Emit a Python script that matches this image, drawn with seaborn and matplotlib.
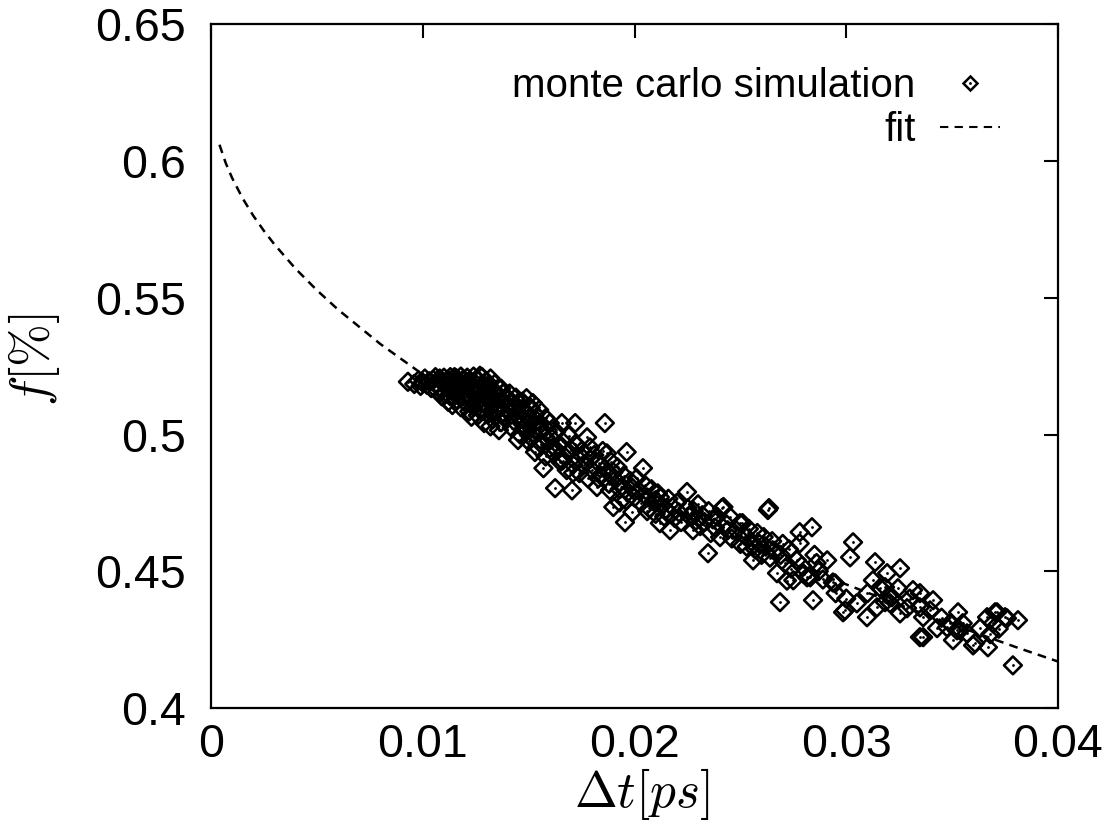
import numpy as np
import pandas as pd
import matplotlib
matplotlib.use("Agg")
import matplotlib.pyplot as plt
from matplotlib.lines import Line2D
import seaborn as sns

# ---------------- data ----------------
mc_points = [
    # dt , f
    (0.0093, 0.5193), (0.0096, 0.5185), (0.0098, 0.5198), (0.0099, 0.5178), (0.0100, 0.5190),
    (0.0101, 0.5205), (0.0102, 0.5182), (0.0103, 0.5195), (0.0104, 0.5170), (0.0105, 0.5200),
    (0.0106, 0.5185), (0.0107, 0.5160), (0.0108, 0.5205), (0.0108, 0.5175), (0.0109, 0.5192),
    (0.0110, 0.5150), (0.0110, 0.5208), (0.0111, 0.5180), (0.0112, 0.5198), (0.0112, 0.5165),
    (0.0113, 0.5140), (0.0113, 0.5210), (0.0114, 0.5188), (0.0114, 0.5108), (0.0115, 0.5172),
    (0.0115, 0.5150), (0.0116, 0.5205), (0.0116, 0.5128), (0.0117, 0.5192), (0.0117, 0.5160),
    (0.0118, 0.5212), (0.0118, 0.5178), (0.0119, 0.5140), (0.0119, 0.5200), (0.0120, 0.5165),
    (0.0120, 0.5185), (0.0120, 0.5118),
    (0.0121, 0.5208), (0.0121, 0.5150), (0.0122, 0.5192), (0.0122, 0.5130), (0.0123, 0.5175),
    (0.0123, 0.5065), (0.0124, 0.5212), (0.0124, 0.5158), (0.0125, 0.5185), (0.0125, 0.5140),
    (0.0126, 0.5200), (0.0126, 0.5120), (0.0127, 0.5168), (0.0127, 0.5090), (0.0128, 0.5210),
    (0.0128, 0.5148), (0.0129, 0.5180), (0.0129, 0.5042), (0.0130, 0.5195), (0.0130, 0.5160),
    (0.0130, 0.5105), (0.0131, 0.5130), (0.0131, 0.5175), (0.0132, 0.5142), (0.0132, 0.5205),
    (0.0133, 0.5125), (0.0133, 0.5160), (0.0134, 0.5090), (0.0134, 0.5185), (0.0135, 0.5150),
    (0.0136, 0.5016), (0.0136, 0.5133), (0.0136, 0.5105), (0.0137, 0.5168), (0.0137, 0.5075),
    (0.0138, 0.5120), (0.0138, 0.5150), (0.0139, 0.5095), (0.0139, 0.5133), (0.0140, 0.5060),
    (0.0140, 0.5110),
    (0.0112, 0.5120), (0.0118, 0.5100), (0.0122, 0.5085), (0.0126, 0.5070), (0.0129, 0.5115),
    (0.0131, 0.5075), (0.0133, 0.5055), (0.0135, 0.5085), (0.0127, 0.5215), (0.0124, 0.5100),
    (0.0132, 0.5030), (0.0137, 0.5045), (0.0115, 0.5210), (0.0109, 0.5140), (0.0106, 0.5210),
    (0.0141, 0.5150), (0.0141, 0.5085), (0.0142, 0.5120), (0.0143, 0.5050), (0.0143, 0.5100),
    (0.0144, 0.5135), (0.0145, 0.4980), (0.0145, 0.5070), (0.0146, 0.5110), (0.0147, 0.5040),
    (0.0148, 0.5088), (0.0149, 0.5133), (0.0149, 0.5015), (0.0150, 0.5060), (0.0151, 0.5098),
    (0.0151, 0.4990), (0.0152, 0.5115), (0.0152, 0.5035), (0.0153, 0.4936), (0.0153, 0.5075),
    (0.0154, 0.5050), (0.0155, 0.5010), (0.0155, 0.5090), (0.0156, 0.4965), (0.0157, 0.5030),
    (0.0157, 0.4877), (0.0158, 0.5060), (0.0158, 0.4990), (0.0159, 0.5015), (0.0160, 0.4950),
    (0.0160, 0.5042),
    (0.0142, 0.5025), (0.0144, 0.5095), (0.0146, 0.5000), (0.0148, 0.5055), (0.0150, 0.4975),
    (0.0152, 0.5005), (0.0154, 0.4955), (0.0156, 0.5020), (0.0158, 0.4920), (0.0147, 0.5120),
    (0.0161, 0.4985), (0.0162, 0.4930), (0.01625, 0.4804), (0.0163, 0.5010), (0.0164, 0.4960),
    (0.0165, 0.4900), (0.01657, 0.5042), (0.0166, 0.4975), (0.0167, 0.4920), (0.0168, 0.4870),
    (0.0169, 0.4995), (0.0170, 0.4945), (0.01705, 0.4796), (0.0171, 0.4890), (0.0172, 0.5042),
    (0.0172, 0.4965), (0.0173, 0.4915), (0.0174, 0.4859), (0.0175, 0.4940), (0.0176, 0.4890),
    (0.01776, 0.4990), (0.0178, 0.4840), (0.0179, 0.4953), (0.0179, 0.4910), (0.0180, 0.4870),
    (0.0163, 0.4945), (0.0166, 0.4905), (0.0169, 0.4935), (0.0171, 0.4860), (0.0177, 0.4925),
    (0.0181, 0.4925), (0.01823, 0.4808), (0.0183, 0.4895), (0.0184, 0.4850), (0.0185, 0.4940),
    (0.0186, 0.5042), (0.0186, 0.4875), (0.0187, 0.4931), (0.0188, 0.4820), (0.01884, 0.4796),
    (0.0189, 0.4900), (0.0190, 0.4862), (0.0190, 0.4735), (0.0191, 0.4835), (0.0192, 0.4880),
    (0.0193, 0.4752), (0.0194, 0.4810), (0.0195, 0.4850), (0.01955, 0.4679), (0.01963, 0.4936),
    (0.0197, 0.4790), (0.0198, 0.4830), (0.0199, 0.4716), (0.0199, 0.4805), (0.0200, 0.4770),
    (0.0183, 0.4840), (0.0188, 0.4860), (0.0193, 0.4800), (0.0196, 0.4760),
    (0.0201, 0.4840), (0.0202, 0.4795), (0.0203, 0.4750), (0.0204, 0.4877), (0.0205, 0.4815),
    (0.0206, 0.4770), (0.0207, 0.4730), (0.0208, 0.4800), (0.0209, 0.4755), (0.0210, 0.4710),
    (0.0211, 0.4785), (0.0212, 0.4676), (0.0212, 0.4771), (0.0213, 0.4740), (0.0214, 0.4700),
    (0.0215, 0.4724), (0.0216, 0.4765), (0.02168, 0.4650), (0.0218, 0.4735), (0.0219, 0.4695),
    (0.0220, 0.4750), (0.0206, 0.4720), (0.0210, 0.4760), (0.0217, 0.4710),
    (0.0221, 0.4715), (0.0222, 0.4680), (0.02248, 0.4790), (0.0225, 0.4730), (0.0226, 0.4700),
    (0.02276, 0.4650), (0.0228, 0.4720), (0.0229, 0.4685), (0.0230, 0.4745), (0.0231, 0.4665),
    (0.0232, 0.4705), (0.0233, 0.4680), (0.02347, 0.4566), (0.0235, 0.4720), (0.0236, 0.4640),
    (0.0237, 0.4690), (0.0238, 0.4660), (0.0239, 0.4700), (0.02404, 0.4625), (0.02413, 0.4731),
    (0.0242, 0.4735),
    (0.0243, 0.4675), (0.0244, 0.4650), (0.0245, 0.4700), (0.0246, 0.4620), (0.0248, 0.4650),
    (0.02498, 0.4676), (0.0250, 0.4600), (0.0251, 0.4676), (0.0252, 0.4630), (0.0253, 0.4590),
    (0.0254, 0.4655), (0.0255, 0.4610), (0.0256, 0.4540), (0.0257, 0.4580), (0.0258, 0.4640),
    (0.0259, 0.4600), (0.0260, 0.4560),
    (0.0261, 0.4625), (0.0262, 0.4590), (0.0263, 0.4724), (0.02635, 0.4731), (0.0264, 0.4550),
    (0.0265, 0.4610), (0.0266, 0.4575), (0.02673, 0.4493), (0.02687, 0.4387), (0.0269, 0.4560),
    (0.0270, 0.4600), (0.0271, 0.4530), (0.0272, 0.4466), (0.0273, 0.4580), (0.0274, 0.4510),
    (0.0275, 0.4467), (0.02767, 0.4540), (0.0278, 0.4643), (0.0278, 0.4602), (0.0279, 0.4520),
    (0.0280, 0.4490),
    (0.02815, 0.4478), (0.0283, 0.4478), (0.02838, 0.4661), (0.02843, 0.4394), (0.0285, 0.4560),
    (0.0286, 0.4530), (0.0287, 0.4500), (0.0289, 0.4470), (0.0291, 0.4540), (0.02937, 0.4459),
    (0.02947, 0.4456), (0.0295, 0.4420), (0.02985, 0.4350), (0.02994, 0.4357), (0.0300, 0.4400),
    (0.03018, 0.4551), (0.03032, 0.4606), (0.0305, 0.4383), (0.03098, 0.4332), (0.0310, 0.4420),
    (0.03126, 0.4467), (0.03136, 0.4533), (0.03145, 0.4368), (0.0316, 0.4440), (0.03183, 0.4442),
    (0.03183, 0.4387), (0.03193, 0.4493), (0.0320, 0.4410),
    (0.03207, 0.4383), (0.03216, 0.4405), (0.03244, 0.4438), (0.03254, 0.4511), (0.03254, 0.4346),
    (0.03287, 0.4365), (0.0330, 0.4400), (0.03315, 0.4431), (0.03348, 0.4368), (0.03348, 0.4420),
    (0.03348, 0.4259), (0.03363, 0.4332), (0.03363, 0.4259), (0.03396, 0.4357), (0.0341, 0.4394),
    (0.03429, 0.4292), (0.0345, 0.4330), (0.03476, 0.4295), (0.0349, 0.4310), (0.03504, 0.4248),
    (0.03523, 0.4284), (0.03528, 0.4350), (0.03537, 0.4284), (0.0355, 0.4310), (0.0357, 0.4273),
    (0.03599, 0.4229), (0.03608, 0.4237),
    (0.03632, 0.4292), (0.03665, 0.4332), (0.03669, 0.4222), (0.0368, 0.4270), (0.03693, 0.4310),
    (0.03703, 0.4350), (0.03712, 0.4350), (0.0372, 0.4290), (0.0375, 0.4332), (0.03759, 0.4328),
    (0.03787, 0.4156), (0.03811, 0.4321),
]
mc_dt = [p[0] for p in mc_points]
mc_f = [p[1] for p in mc_points]

fit_dt = [0.0004, 0.0007, 0.001, 0.0015, 0.002, 0.0025, 0.003, 0.004, 0.005, 0.006, 0.008,
          0.010, 0.012, 0.014, 0.016, 0.018, 0.020, 0.023, 0.026, 0.029, 0.032, 0.035,
          0.038, 0.040]
fit_f = [0.6060, 0.5992, 0.5938, 0.5863, 0.5800, 0.5745, 0.5695, 0.5606, 0.5528, 0.5457,
         0.5331, 0.5220, 0.5120, 0.5028, 0.4942, 0.4861, 0.4785, 0.4678, 0.4577, 0.4482,
         0.4392, 0.4306, 0.4223, 0.4170]

x_ticks = [0.0, 0.01, 0.02, 0.03, 0.04]
x_ticklabels = ["0", "0.01", "0.02", "0.03", "0.04"]
y_ticks = [0.40, 0.45, 0.50, 0.55, 0.60, 0.65]
y_ticklabels = ["0.4", "0.45", "0.5", "0.55", "0.6", "0.65"]

legend_labels = ["monte carlo simulation", "fit"]
x_label = r"$\Delta t[ps]$"
y_label = r"$f[\%]$"

# ---------------- style ----------------
sns.set_theme(style="white")
plt.rcParams["font.family"] = ["Liberation Sans", "DejaVu Sans"]
plt.rcParams["mathtext.fontset"] = "cm"

W, H = 1107, 834
fig = plt.figure(figsize=(W / 100, H / 100), dpi=100)
ax_l, ax_r, ax_t, ax_b = 211, 1058, 24.4, 708
ax = fig.add_axes([ax_l / W, 1 - ax_b / H, (ax_r - ax_l) / W, (ax_b - ax_t) / H])

df_mc = pd.DataFrame({"dt": mc_dt, "f": mc_f})
df_fit = pd.DataFrame({"dt": fit_dt, "f": fit_f})

sns.lineplot(data=df_fit, x="dt", y="f", ax=ax, color="black", linewidth=1.8,
             linestyle=(0, (3.5, 2.5)), estimator=None, sort=False, zorder=2)
sns.scatterplot(data=df_mc, x="dt", y="f", ax=ax, marker="D", s=82,
                facecolors="none", edgecolors="black", linewidths=1.9, zorder=3)
sns.scatterplot(data=df_mc, x="dt", y="f", ax=ax, marker="o", s=4,
                color="black", linewidth=0, zorder=4)

ax.set_xlim(0, 0.04)
ax.set_ylim(0.4, 0.65)
ax.set_xticks(x_ticks)
ax.set_xticklabels(x_ticklabels)
ax.set_yticks(y_ticks)
ax.set_yticklabels(y_ticklabels)
ax.tick_params(axis="both", direction="in", length=10, width=1.5, color="black",
               top=True, right=True, labelsize=33.5, labelcolor="black")
ax.tick_params(axis="x", pad=11)
ax.tick_params(axis="y", pad=18)
for sp in ax.spines.values():
    sp.set_visible(True)
    sp.set_color("black")
    sp.set_linewidth(1.6)

ax.set_xlabel(x_label, fontsize=37, color="black")
ax.set_ylabel(y_label, fontsize=37, color="black")
ax.xaxis.set_label_coords((642 - ax_l) / (ax_r - ax_l), (ax_b - 766) / (ax_b - ax_t))
ax.yaxis.set_label_coords((62 - ax_l) / (ax_r - ax_l), (ax_b - 360) / (ax_b - ax_t))

# legend (label left, sample right, no frame)
h_mc = Line2D([], [], linestyle="none", marker="D", markersize=7.5,
              markerfacecolor="none", markeredgecolor="black", markeredgewidth=1.8)
h_dot = Line2D([], [], linestyle="none", marker="o", markersize=2,
               markerfacecolor="black", markeredgewidth=0)
h_fit = Line2D([], [], color="black", linewidth=1.5, linestyle=(0, (4, 3)))
leg = ax.legend([(h_mc, h_dot), h_fit], legend_labels, loc="upper right",
                bbox_to_anchor=(1000 / W, 1 - 67 / H), bbox_transform=fig.transFigure,
                frameon=False, markerfirst=False, fontsize=29, handlelength=1.5,
                handletextpad=0.6, labelspacing=0.15, borderpad=0, borderaxespad=0)
for t in leg.get_texts():
    t.set_color("black")

fig.savefig("out.png", dpi=100, facecolor="white")
